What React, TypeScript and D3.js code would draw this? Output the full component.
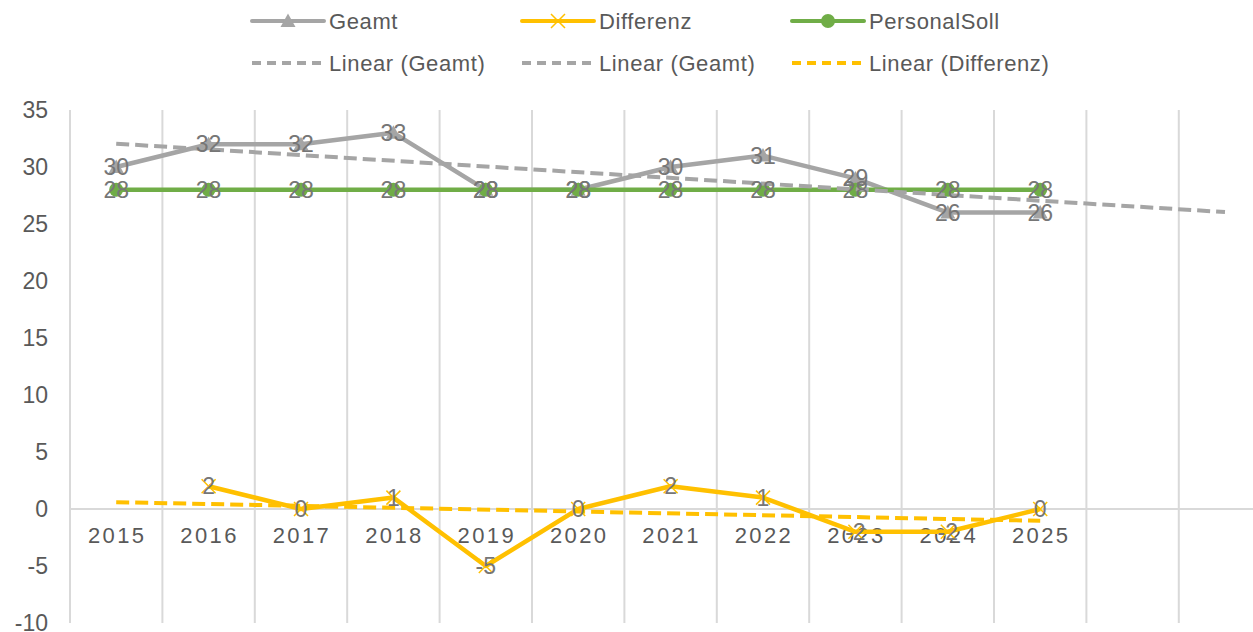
import * as d3 from "d3";

const years = ["2015", "2016", "2017", "2018", "2019", "2020", "2021", "2022", "2023", "2024", "2025"];
// two empty slots after 2025 so the forecast of the Geamt trend has room
const extraSlots = ["", ""];
const geamt = [30, 32, 32, 33, 28, 28, 30, 31, 29, 26, 26];
const differenz: (number | null)[] = [null, 2, 0, 1, -5, 0, 2, 1, -2, -2, 0];
const personalSoll = [28, 28, 28, 28, 28, 28, 28, 28, 28, 28, 28];
const yTicks = [-10, -5, 0, 5, 10, 15, 20, 25, 30, 35];
const geamtForward = 2;

const GRAY = "#A5A5A5";
const GOLD = "#FFC000";
const GREEN = "#70AD47";
const TEXT = "#595959";
const LABEL = "#767676";
const GRID = "#d9d9d9";
const FONT = "'Liberation Sans', Arial, sans-serif";

type Pt = { i: number; v: number };

function toPoints(vals: (number | null)[]): Pt[] {
  return vals
    .map((v, i) => ({ i, v }))
    .filter((p): p is Pt => p.v !== null && p.v !== undefined);
}

// least-squares fit in Excel style: x = 1..n over the category index
function linearFit(vals: (number | null)[]) {
  const pts = toPoints(vals).map((p) => ({ x: p.i + 1, y: p.v }));
  const mx = d3.mean(pts, (p) => p.x) ?? 0;
  const my = d3.mean(pts, (p) => p.y) ?? 0;
  const sxy = d3.sum(pts, (p) => (p.x - mx) * (p.y - my));
  const sxx = d3.sum(pts, (p) => (p.x - mx) ** 2);
  const slope = sxy / sxx;
  return (x: number) => my + slope * (x - mx);
}

function Marker({ kind, x, y }: { kind: string; x: number; y: number }) {
  if (kind === "tri") {
    const s = 7.5;
    return <path d={`M${x},${y - s}L${x + s},${y + s * 0.8}L${x - s},${y + s * 0.8}Z`} fill={GRAY} />;
  }
  if (kind === "x") {
    const s = 7;
    return (
      <path
        d={`M${x - s},${y - s}L${x + s},${y + s}M${x - s},${y + s}L${x + s},${y - s}`}
        stroke={GOLD}
        strokeWidth={1.5}
        fill="none"
      />
    );
  }
  return <circle cx={x} cy={y} r={7} fill={GREEN} />;
}

export default function App() {
  const width = 1253;
  const height = 632;
  const left = 70;
  const band = 92.4;
  const cats = [...years, ...extraSlots];

  const x = d3
    .scaleBand<string>()
    .domain(cats.map((c, i) => `${i}`))
    .range([left, left + band * cats.length])
    .padding(0);
  const cx = (i: number) => (x(`${i}`) ?? 0) + x.bandwidth() / 2;
  const y = d3.scaleLinear().domain([-10, 35]).range([623, 110]);
  const [plotL, plotR] = x.range();

  const line = d3
    .line<Pt>()
    .x((p) => cx(p.i))
    .y((p) => y(p.v));

  const series = [
    { name: "Geamt", vals: geamt as (number | null)[], color: GRAY, marker: "tri" },
    { name: "Differenz", vals: differenz, color: GOLD, marker: "x" },
    { name: "PersonalSoll", vals: personalSoll as (number | null)[], color: GREEN, marker: "circle" },
  ];

  const fitG = linearFit(geamt);
  const fitD = linearFit(differenz);
  const trendG = [1, years.length + geamtForward].map((k) => ({ i: k - 1, v: fitG(k) }));
  const trendD = [1, years.length].map((k) => ({ i: k - 1, v: fitD(k) }));

  const legendCols = [252, 522, 792];
  const legendRows = [21, 63];
  const legendItems = [
    { label: "Geamt", color: GRAY, marker: "tri", dash: false },
    { label: "Differenz", color: GOLD, marker: "x", dash: false },
    { label: "PersonalSoll", color: GREEN, marker: "circle", dash: false },
    { label: "Linear (Geamt)", color: GRAY, marker: "", dash: true },
    { label: "Linear (Geamt)", color: GRAY, marker: "", dash: true },
    { label: "Linear (Differenz)", color: GOLD, marker: "", dash: true },
  ];

  return (
    <div style={{ position: "fixed", left: 0, top: 0 }}>
      <svg width={width} height={height} style={{ display: "block", background: "#fff" }} fontFamily={FONT}>
        {/* vertical category gridlines */}
        {d3.range(cats.length + 1).map((k) => (
          <line
            key={`vg${k}`}
            x1={plotL + k * band}
            x2={plotL + k * band}
            y1={y(35)}
            y2={y(-10)}
            stroke={GRID}
            strokeWidth={2}
          />
        ))}
        {/* zero axis line */}
        <line x1={plotL} x2={plotR} y1={y(0)} y2={y(0)} stroke={GRID} strokeWidth={2} />

        {/* y tick labels */}
        {yTicks.map((t) => (
          <text key={`yt${t}`} x={48} y={y(t) + 8} textAnchor="end" fontSize={23} fill={TEXT}>
            {t}
          </text>
        ))}

        {/* category labels */}
        {years.map((c, i) => (
          <text
            key={`xl${c}`}
            x={cx(i) + 1}
            y={y(0) + 34}
            textAnchor="middle"
            fontSize={22}
            letterSpacing={2.4}
            fill={TEXT}
          >
            {c}
          </text>
        ))}

        {/* series lines */}
        {series.map((s) => (
          <path
            key={`ln${s.name}`}
            d={line(toPoints(s.vals)) ?? ""}
            fill="none"
            stroke={s.color}
            strokeWidth={4.5}
            strokeLinejoin="round"
          />
        ))}
        {series.map((s) =>
          toPoints(s.vals).map((p) => (
            <Marker key={`mk${s.name}${p.i}`} kind={s.marker} x={cx(p.i)} y={y(p.v)} />
          ))
        )}

        {/* trendlines */}
        <path d={line(trendG) ?? ""} fill="none" stroke={GRAY} strokeWidth={4} strokeDasharray="13 6" />
        <path d={line(trendD) ?? ""} fill="none" stroke={GOLD} strokeWidth={4} strokeDasharray="13 6" />

        {/* data labels */}
        {series.map((s) =>
          toPoints(s.vals).map((p) => (
            <text
              key={`dl${s.name}${p.i}`}
              x={cx(p.i)}
              y={y(p.v) + 8}
              textAnchor="middle"
              fontSize={23}
              fill={LABEL}
            >
              {p.v}
            </text>
          ))
        )}

        {/* legend */}
        {legendItems.map((it, k) => {
          const lx = legendCols[k % 3];
          const ly = legendRows[Math.floor(k / 3)];
          return (
            <g key={`lg${k}`}>
              <line
                x1={lx}
                x2={lx + 72}
                y1={ly}
                y2={ly}
                stroke={it.color}
                strokeWidth={4}
                strokeDasharray={it.dash ? "9 6" : undefined}
                strokeLinecap={it.dash ? "butt" : "round"}
              />
              {it.marker && <Marker kind={it.marker} x={lx + 36} y={ly} />}
              <text x={lx + 77} y={ly + 8} fontSize={22} letterSpacing={0.6} fill={TEXT}>
                {it.label}
              </text>
            </g>
          );
        })}
      </svg>
    </div>
  );
}
